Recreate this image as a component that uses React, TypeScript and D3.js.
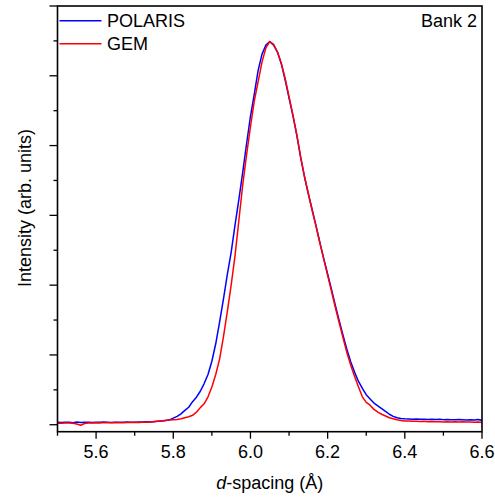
import React from "react";
import * as d3 from "d3";

const dSpacing: number[] = [
  5.50, 5.51, 5.52, 5.53, 5.54, 5.55, 5.56, 5.57, 5.58, 5.59,
  5.60, 5.61, 5.62, 5.63, 5.64, 5.65, 5.66, 5.67, 5.68, 5.69,
  5.70, 5.71, 5.72, 5.73, 5.74, 5.75, 5.76, 5.77, 5.78, 5.79,
  5.80, 5.81, 5.82, 5.83, 5.84, 5.85, 5.86, 5.87, 5.88, 5.89,
  5.90, 5.91, 5.92, 5.93, 5.94, 5.95, 5.96, 5.97, 5.98, 5.99,
  6.00, 6.01, 6.02, 6.03, 6.04, 6.05, 6.06, 6.07, 6.08, 6.09,
  6.10, 6.11, 6.12, 6.13, 6.14, 6.15, 6.16, 6.17, 6.18, 6.19,
  6.20, 6.21, 6.22, 6.23, 6.24, 6.25, 6.26, 6.27, 6.28, 6.29,
  6.30, 6.31, 6.32, 6.33, 6.34, 6.35, 6.36, 6.37, 6.38, 6.39,
  6.40, 6.41, 6.42, 6.43, 6.44, 6.45, 6.46, 6.47, 6.48, 6.49,
  6.50, 6.51, 6.52, 6.53, 6.54, 6.55, 6.56, 6.57, 6.58, 6.59,
  6.60,
];

const polaris: number[] = [
  0.035, 0.033, 0.036, 0.034, 0.030, 0.038, 0.032, 0.035, 0.037, 0.033,
  0.036, 0.034, 0.038, 0.035, 0.033, 0.037, 0.036, 0.034, 0.039, 0.037,
  0.036, 0.040, 0.038, 0.041, 0.039, 0.044, 0.048, 0.052, 0.062, 0.070,
  0.094, 0.120, 0.155, 0.205, 0.250, 0.330, 0.395, 0.480, 0.590, 0.720,
  0.910, 1.160, 1.470, 1.800, 2.150, 2.470, 2.860, 3.230, 3.620, 4.030,
  4.420, 4.740, 5.080, 5.310, 5.440, 5.490, 5.440, 5.340, 5.170, 4.940,
  4.680, 4.430, 4.150, 3.830, 3.550, 3.310, 3.080, 2.850, 2.610, 2.380,
  2.160, 1.940, 1.710, 1.490, 1.280, 1.080, 0.900, 0.750, 0.620, 0.520,
  0.430, 0.370, 0.310, 0.270, 0.230, 0.190, 0.150, 0.120, 0.100, 0.090,
  0.085, 0.082, 0.080, 0.083, 0.078, 0.080, 0.076, 0.079, 0.075, 0.078,
  0.073, 0.076, 0.072, 0.070, 0.074, 0.071, 0.069, 0.072, 0.068, 0.075,
  0.062,
];

const gem: number[] = [
  0.022, 0.020, 0.024, 0.026, 0.022, 0.010, -0.008, 0.018, 0.024, 0.026,
  0.028, 0.025, 0.030, 0.027, 0.029, 0.032, 0.030, 0.028, 0.033, 0.031,
  0.035, 0.030, 0.037, 0.034, 0.039, 0.045, 0.050, 0.056, 0.062, 0.066,
  0.072, 0.076, 0.085, 0.100, 0.115, 0.135, 0.180, 0.245, 0.300, 0.400,
  0.540, 0.720, 0.940, 1.260, 1.620, 2.000, 2.420, 2.930, 3.440, 3.870,
  4.270, 4.640, 4.920, 5.200, 5.400, 5.490, 5.450, 5.340, 5.180, 4.960,
  4.700, 4.440, 4.160, 3.840, 3.560, 3.310, 3.070, 2.840, 2.600, 2.370,
  2.140, 1.910, 1.680, 1.460, 1.240, 1.030, 0.850, 0.690, 0.540, 0.400,
  0.320, 0.280, 0.220, 0.180, 0.150, 0.125, 0.100, 0.085, 0.070, 0.062,
  0.055, 0.052, 0.050, 0.048, 0.046, 0.050, 0.044, 0.047, 0.041, 0.044,
  0.040, 0.043, 0.040, 0.042, 0.039, 0.043, 0.038, 0.040, 0.037, 0.039,
  0.030,
];

const xMajorTicks: number[] = [5.6, 5.8, 6.0, 6.2, 6.4, 6.6];
const xMinorTicks: number[] = [5.5, 5.7, 5.9, 6.1, 6.3, 6.5];
const yMajorTicks: number[] = [0, 1, 2, 3, 4, 5, 6];
const yMinorTicks: number[] = [0.5, 1.5, 2.5, 3.5, 4.5, 5.5];

const seriesNames: string[] = ["POLARIS", "GEM"];
const seriesColors: string[] = ["#0000ff", "#ff0000"];

const W = 495;
const H = 498;
const left = 57.5;
const right = 482;
const top = 6;
const bottom = 431.7;

const FONT = "'Liberation Sans', Arial, Helvetica, sans-serif";
const FS = 18;

export default function App() {
  const x = d3.scaleLinear().domain([5.5, 6.6]).range([left, right]);
  const y = d3.scaleLinear().domain([-0.1, 6.0]).range([bottom, top]);

  const line = d3
    .line<number>()
    .x((_, i) => x(dSpacing[i]))
    .y((v) => y(v));

  const series = [polaris, gem];

  return (
    <svg
      width={W}
      height={H}
      style={{ position: "absolute", left: 0, top: 0, background: "#fff" }}
      fontFamily={FONT}
    >
      <defs>
        <clipPath id="plotclip">
          <rect x={left} y={top} width={right - left} height={bottom - top} />
        </clipPath>
      </defs>
      <rect x={0} y={0} width={W} height={H} fill="#fff" />

      <g clipPath="url(#plotclip)">
        {series.map((s, k) => (
          <path
            key={seriesNames[k]}
            d={line(s) || ""}
            fill="none"
            stroke={seriesColors[k]}
            strokeWidth={1.5}
            strokeLinejoin="round"
          />
        ))}
      </g>

      {/* frame */}
      <rect
        x={left}
        y={top}
        width={right - left}
        height={bottom - top}
        fill="none"
        stroke="#000"
        strokeWidth={1.6}
      />

      {/* x ticks */}
      {xMajorTicks.map((t) => (
        <g key={"xM" + t}>
          <line x1={x(t)} x2={x(t)} y1={bottom} y2={bottom + 7} stroke="#000" strokeWidth={1.3} />
          <text x={x(t)} y={458.3} textAnchor="middle" fontSize={FS} fill="#000">
            {t.toFixed(1)}
          </text>
        </g>
      ))}
      {xMinorTicks.map((t) => (
        <line key={"xm" + t} x1={x(t)} x2={x(t)} y1={bottom} y2={bottom + 4} stroke="#000" strokeWidth={1.3} />
      ))}

      {/* y ticks */}
      {yMajorTicks.map((t) => (
        <line key={"yM" + t} x1={left - 8} x2={left} y1={y(t)} y2={y(t)} stroke="#000" strokeWidth={1.3} />
      ))}
      {yMinorTicks.map((t) => (
        <line key={"ym" + t} x1={left - 4} x2={left} y1={y(t)} y2={y(t)} stroke="#000" strokeWidth={1.3} />
      ))}

      {/* axis titles */}
      <text x={(left + right) / 2} y={489} textAnchor="middle" fontSize={FS} fill="#000">
        <tspan fontStyle="italic">d</tspan>-spacing (Å)
      </text>
      <text
        transform={`translate(31, 208) rotate(-90)`}
        textAnchor="middle"
        fontSize={FS}
        fill="#000"
      >
        Intensity (arb. units)
      </text>

      {/* legend */}
      {seriesNames.map((n, k) => (
        <g key={"leg" + n}>
          <line
            x1={59.5}
            x2={101.5}
            y1={20.7 + k * 23}
            y2={20.7 + k * 23}
            stroke={seriesColors[k]}
            strokeWidth={1.5}
          />
          <text x={107} y={27.3 + k * 23} fontSize={FS} fill="#000">
            {n}
          </text>
        </g>
      ))}

      <text x={477} y={27.3} textAnchor="end" fontSize={FS} fill="#000">
        Bank 2
      </text>
    </svg>
  );
}
